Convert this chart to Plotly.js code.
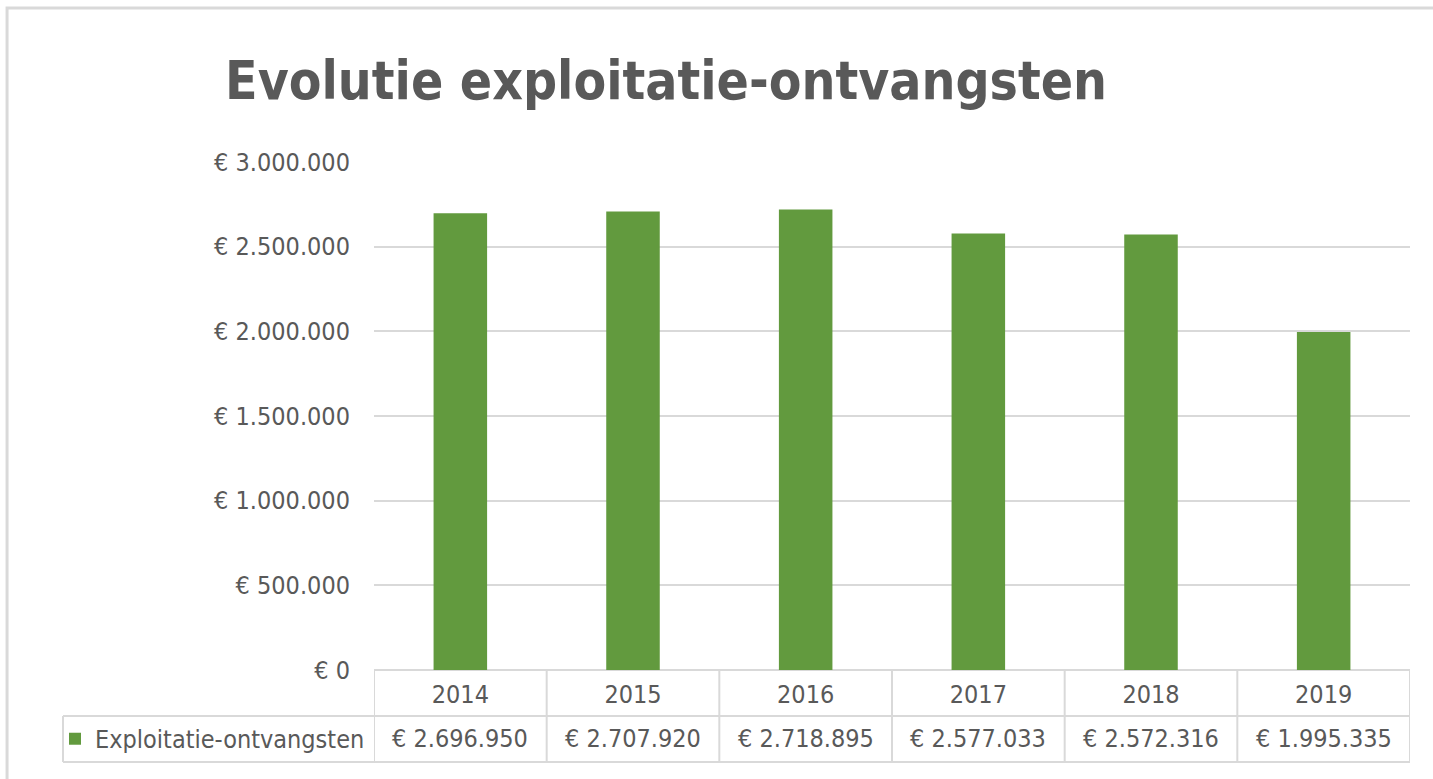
<!DOCTYPE html>
<html>
<head>
<meta charset="utf-8">
<script src="https://cdn.plot.ly/plotly-3.0.1.min.js"></script>
<style>
  html, body { margin: 0; padding: 0; background: #ffffff; }
  #chart { width: 1433px; height: 779px; }
</style>
</head>
<body>
<div id="chart"></div>
<script>
const years = ['2014', '2015', '2016', '2017', '2018', '2019'];
const revenue = [2696950, 2707920, 2718895, 2577033, 2572316, 1995335];
const seriesName = 'Exploitatie-ontvangsten';
const chartTitle = 'Evolutie exploitatie-ontvangsten';

const FONT = '"Liberation Sans Narrow", "DejaVu Sans Condensed", Arial, sans-serif';
const TXT = '#595959';
const LINE = '#d9d9d9';
const GREEN = '#629a3e';
const FS = 25;

function euro(v) {
  return '€ ' + String(v).replace(/\B(?=(\d{3})+(?!\d))/g, '.');
}

// table geometry in paper units (plot area = 374..1410 x, 162..670 y)
const rowMid = -0.1358, rowTop = -0.0906, rowBot = -0.1811;
const legendLeft = -0.3002;

const shapes = [];
shapes.push({type: 'line', xref: 'paper', yref: 'paper', x0: legendLeft, x1: 1, y0: rowTop, y1: rowTop, line: {color: LINE, width: 2}});
shapes.push({type: 'line', xref: 'paper', yref: 'paper', x0: legendLeft, x1: 1, y0: rowBot, y1: rowBot, line: {color: LINE, width: 2}});
shapes.push({type: 'line', xref: 'paper', yref: 'paper', x0: legendLeft, x1: legendLeft, y0: rowTop, y1: rowBot, line: {color: LINE, width: 2}});
for (let i = 0; i <= years.length; i++) {
  shapes.push({type: 'line', xref: 'x', yref: 'paper', x0: i - 0.5, x1: i - 0.5, y0: 0, y1: rowBot, line: {color: LINE, width: 2}});
}
shapes.push({type: 'rect', xref: 'paper', yref: 'paper', x0: -0.3542, x1: 1.2, y0: 1.3031, y1: -0.4, line: {color: LINE, width: 3}, layer: 'below'});

const annotations = years.map((y, i) => ({
  xref: 'x', yref: 'paper', x: i, y: rowMid, text: euro(revenue[i]),
  showarrow: false, xanchor: 'center', yanchor: 'middle',
  font: {family: FONT, size: FS, color: TXT}
}));

const trace = {
  type: 'bar',
  x: years,
  y: revenue,
  name: seriesName,
  marker: {color: GREEN},
  width: 0.31,
  hoverinfo: 'x+y'
};

const layout = {
  width: 1433, height: 779,
  paper_bgcolor: '#ffffff', plot_bgcolor: '#ffffff',
  margin: {l: 374, r: 23, t: 162, b: 109, pad: 0},
  separators: ',.',
  font: {family: FONT, color: TXT, size: FS},
  title: {
    text: '<b>' + chartTitle + '</b>',
    font: {family: FONT, size: 53, color: TXT},
    xref: 'container', yref: 'container',
    x: 0.4648, xanchor: 'center', y: 0.897, yanchor: 'middle'
  },
  xaxis: {
    type: 'category',
    range: [-0.5, years.length - 0.5],
    showgrid: false, zeroline: false, showline: false,
    ticks: '', ticklabelstandoff: 7,
    tickfont: {family: FONT, size: FS, color: TXT},
    fixedrange: true
  },
  yaxis: {
    range: [0, 3000000], dtick: 500000, tick0: 0,
    tickprefix: '€ ', tickformat: ',d',
    showgrid: true, gridcolor: LINE, gridwidth: 2,
    zeroline: true, zerolinecolor: LINE, zerolinewidth: 2,
    showline: false, ticks: '', ticklabelstandoff: 23,
    tickfont: {family: FONT, size: FS, color: TXT},
    fixedrange: true
  },
  showlegend: true,
  legend: {
    x: -0.3079, xanchor: 'left', y: rowMid, yanchor: 'middle',
    bgcolor: 'rgba(0,0,0,0)', borderwidth: 0,
    font: {family: FONT, size: FS, color: TXT},
    itemwidth: 30
  },
  shapes: shapes,
  annotations: annotations,
  bargap: 0.69
};

Plotly.newPlot('chart', [trace], layout, {displayModeBar: false, staticPlot: true});
</script>
</body>
</html>
